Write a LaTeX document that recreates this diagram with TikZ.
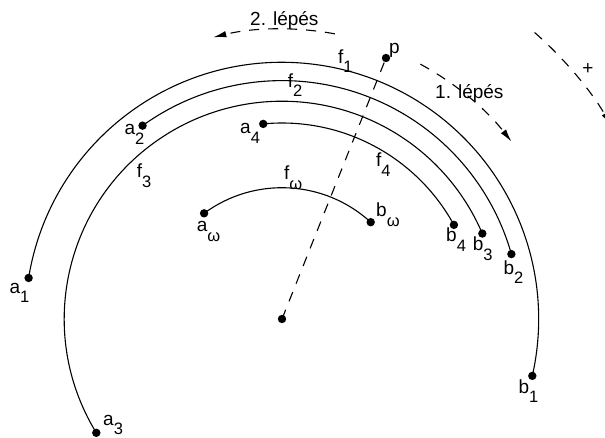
\documentclass[tikz,border=0pt]{standalone}
\usepackage{fontspec}
\setmainfont{Liberation Sans}
\usetikzlibrary{calc,arrows.meta}
\newcommand\sbx[1]{\raisebox{-9.5pt}{\fontsize{16.5}{17}\selectfont #1}}
\begin{document}
\begin{tikzpicture}[x=1pt,y=1pt,
  dot/.style={circle,fill=black,inner sep=0pt,minimum size=8.4pt},
  curve/.style={line width=1.1pt},
  dsh/.style={line width=1.1pt,dash pattern=on 10pt off 9pt},
  arr/.style={dsh,-{Latex[length=13pt,width=6.5pt]}},
  lbl/.style={anchor=base west,inner sep=0pt,font=\fontsize{19}{22}\selectfont}]
\useasboundingbox (0,0) rectangle (605,-438);
\clip (0,0) rectangle (605,-438);
\coordinate (C0) at (282,-319);
\node[dot] (c) at (C0) {};
\node[dot] (p) at (386,-58) {};
% endpoints
\node[dot] (a1) at ($(C0)+(170.8:256.7)$) {};
\node[dot] (b1) at ($(C0)+(-12.8:256.7)$) {};
\node[dot] (a2) at ($(C0)+(125.8:238.4)$) {};
\node[dot] (b2) at ($(C0)+(15.8:238.4)$) {};
\node[dot] (a3) at ($(C0)+(211.5:217.8)$) {};
\node[dot] (b3) at ($(C0)+(23.1:217.8)$) {};
\node[dot] (a4) at ($(C0)+(95.5:196)$) {};
\node[dot] (b4) at ($(C0)+(28.7:196)$) {};
\node[dot] (aw) at ($(C0)+(126.4:131.3)$) {};
\node[dot] (bw) at ($(C0)+(47.5:131.3)$) {};
% arcs
\draw[curve] (a1.center) arc[start angle=170.8,end angle=-12.8,radius=256.7];
\draw[curve] (a2.center) arc[start angle=125.8,end angle=15.8,radius=238.4];
\draw[curve] (a3.center) arc[start angle=211.5,end angle=23.1,radius=217.8];
\draw[curve] (a4.center) arc[start angle=95.5,end angle=28.7,radius=196];
\draw[curve] (aw.center) arc[start angle=126.4,end angle=47.5,radius=131.3];
% dashed radius
\draw[dsh] (c.center) -- (p.center);
% step arrows
\coordinate (s2) at ($(C0)+(79.5:290)$);
\coordinate (s1) at ($(C0)+(61.5:290)$);
\coordinate (sp) at ($(C0)+(48.6:382)$);
\draw[arr] (s2) arc[start angle=79.5,end angle=103.7,radius=290];
\draw[arr] (s1) arc[start angle=61.5,end angle=37.7,radius=290];
\draw[arr] (sp) arc[start angle=48.6,end angle=30.5,radius=382];
% labels
\node[lbl] (t2) at (250,-26) {2. lépés};
\node[lbl] (t1) at (435,-99) {1. lépés};
\node[lbl,anchor=center] (tp) at (588,-69) {+};
\node[lbl] (lp) at (389,-53.5) {p};
\node[lbl] (lf1) at (338,-63.3) {f\sbx{1}};
\node[lbl] (lf2) at (287.7,-87.5) {f\sbx{2}};
\node[lbl] (lf3) at (136.7,-178) {f\sbx{3}};
\node[lbl] (lf4) at (376,-166.7) {f\sbx{4}};
\node[lbl] (lfw) at (284,-180) {f\sbx{ω}};
\node[lbl] (la1) at (9.3,-293.3) {a\sbx{1}};
\node[lbl] (la2) at (124.3,-135) {a\sbx{2}};
\node[lbl] (la3) at (103,-425) {a\sbx{3}};
\node[lbl] (la4) at (240,-134) {a\sbx{4}};
\node[lbl] (law) at (196.7,-231.7) {a\sbx{ω}};
\node[lbl] (lb1) at (518.3,-393.3) {b\sbx{1}};
\node[lbl] (lb2) at (503.3,-274.3) {b\sbx{2}};
\node[lbl] (lb3) at (472.7,-250.7) {b\sbx{3}};
\node[lbl] (lb4) at (446,-241.7) {b\sbx{4}};
\node[lbl] (lbw) at (376,-216.7) {b\sbx{ω}};
\end{tikzpicture}
\end{document}
